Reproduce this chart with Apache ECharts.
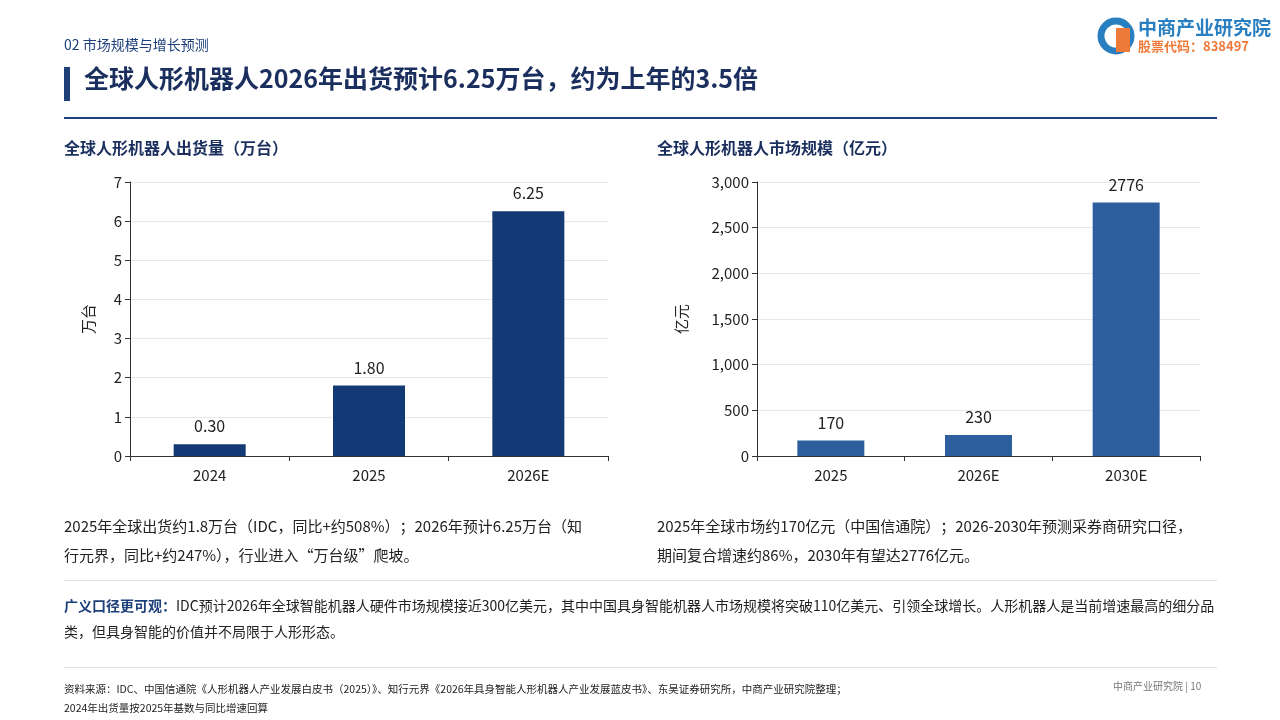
<!DOCTYPE html>
<html><head><meta charset="utf-8">
<script src="https://cdn.jsdelivr.net/npm/echarts@6/dist/echarts.min.js"></script>
<style>html,body{margin:0;padding:0;background:#fff}#c{width:1280px;height:720px}</style>
</head><body><div id="c"></div>
<script>
const shipCats = ['2024','2025','2026E'];
const shipVals = [0.30, 1.80, 6.25];
const shipLabels = ['0.30','1.80','6.25'];
const mktCats = ['2025','2026E','2030E'];
const mktVals = [170, 230, 2776];

const F = '"Noto Sans CJK SC","Noto Sans",sans-serif';
const chart = echarts.init(document.getElementById('c'));
const txt = (x,y,t,s,c,w,extra) => Object.assign({type:'text',left:x,top:y,style:{text:t,fontSize:s,fill:c,fontWeight:w||'normal',fontFamily:F}}, extra||{});
chart.setOption({
  animation:false,
  textStyle:{fontFamily:F},
  grid:[
    {left:130,top:182,width:478,height:274},
    {left:757,top:182,width:443,height:274}
  ],
  xAxis:[
    {gridIndex:0,type:'category',data:shipCats,axisLine:{lineStyle:{color:'#333'}},axisTick:{show:true,lineStyle:{color:'#333'}},axisLabel:{color:'#222',fontSize:15,margin:12}},
    {gridIndex:1,type:'category',data:mktCats,axisLine:{lineStyle:{color:'#333'}},axisTick:{show:true,lineStyle:{color:'#333'}},axisLabel:{color:'#222',fontSize:15,margin:12}}
  ],
  yAxis:[
    {gridIndex:0,type:'value',min:0,max:7,interval:1,name:'万台',nameLocation:'middle',nameGap:34,nameTextStyle:{fontSize:15,color:'#222'},axisLine:{show:true,lineStyle:{color:'#333'}},axisTick:{show:true,lineStyle:{color:'#333'}},axisLabel:{color:'#222',fontSize:15},splitLine:{lineStyle:{color:'#e8e8e8'}}},
    {gridIndex:1,type:'value',min:0,max:3000,interval:500,name:'亿元',nameLocation:'middle',nameGap:68,nameTextStyle:{fontSize:15,color:'#222'},axisLine:{show:true,lineStyle:{color:'#333'}},axisTick:{show:true,lineStyle:{color:'#333'}},axisLabel:{color:'#222',fontSize:15,formatter:v=>v.toLocaleString('en-US')},splitLine:{lineStyle:{color:'#e8e8e8'}}}
  ],
  series:[
    {type:'bar',xAxisIndex:0,yAxisIndex:0,data:shipVals,barWidth:72,itemStyle:{color:'#133a75'},
     label:{show:true,position:'top',distance:10,fontSize:16,color:'#222',formatter:p=>shipLabels[p.dataIndex]}},
    {type:'bar',xAxisIndex:1,yAxisIndex:1,data:mktVals,barWidth:67,itemStyle:{color:'#2d5e9e'},
     label:{show:true,position:'top',distance:10,fontSize:16,color:'#222'}}
  ],
  graphic:[
    txt(64,38,'',14,'#1d3f7a','normal',{style:{text:'02 市场规模与增长预测',fontSize:14,fill:'#1d3f7a',fontFamily:F,letterSpacing:1}}),
    {type:'rect',left:64,top:67,shape:{width:6,height:34},style:{fill:'#1d3f7a'}},
    txt(84,66,'全球人形机器人2026年出货预计6.25万台，约为上年的3.5倍',25,'#1b2f5e','bold'),
    {type:'rect',left:64,top:117,shape:{width:1153,height:2},style:{fill:'#1d3f7a'}},
    txt(64,140,'全球人形机器人出货量（万台）',16,'#1b2f5e','bold'),
    txt(657,140,'全球人形机器人市场规模（亿元）',16,'#1b2f5e','bold'),
    txt(64,512,'',15,'#222','normal',{style:{text:'2025年全球出货约1.8万台（IDC，同比+约508%）；2026年预计6.25万台（知\n行元界，同比+约247%），行业进入“万台级”爬坡。',fontSize:15,fill:'#222',lineHeight:29,fontFamily:F}}),
    txt(657,512,'',15,'#222','normal',{style:{text:'2025年全球市场约170亿元（中国信通院）；2026-2030年预测采券商研究口径，\n期间复合增速约86%，2030年有望达2776亿元。',fontSize:15,fill:'#222',lineHeight:29,fontFamily:F}}),
    {type:'rect',left:64,top:580,shape:{width:1153,height:1},style:{fill:'#e0e0e0'}},
    txt(64,593,'',13,'#222','normal',{style:{rich:{a:{fontSize:14,fill:'#1d3f7a',fontWeight:'bold',fontFamily:F},b:{fontSize:14,fill:'#222',fontFamily:F}},text:'{a|广义口径更可观：}{b|IDC预计2026年全球智能机器人硬件市场规模接近300亿美元，其中中国具身智能机器人市场规模将突破110亿美元、引领全球增长。人形机器人是当前增速最高的细分品}\n{b|类，但具身智能的价值并不局限于人形形态。}',lineHeight:26}}),
    {type:'rect',left:64,top:667,shape:{width:1153,height:1},style:{fill:'#e0e0e0'}},
    txt(64,680,'',10,'#222','normal',{style:{text:'资料来源：IDC、中国信通院《人形机器人产业发展白皮书（2025）》、知行元界《2026年具身智能人形机器人产业发展蓝皮书》、东吴证券研究所，中商产业研究院整理；\n2024年出货量按2025年基数与同比增速回算',fontSize:10.5,fill:'#222',lineHeight:19,fontFamily:F}}),
    txt(1113,681,'中商产业研究院 | 10',10,'#777'),
    {type:'circle',shape:{cx:1116,cy:36,r:15},style:{fill:'none',stroke:'#2a7fc1',lineWidth:7}},
    {type:'rect',left:1116,top:28,shape:{width:14,height:24},style:{fill:'#ee7a3a'}},
    txt(1138,18,'中商产业研究院',19,'#2a7fc1','bold'),
    txt(1138,40,'',13,'#ee7a3a','bold',{style:{text:'股票代码：838497',fontSize:13,fill:'#ee7a3a',fontWeight:'bold',fontFamily:F,letterSpacing:1.5}})
  ]
});
</script></body></html>
